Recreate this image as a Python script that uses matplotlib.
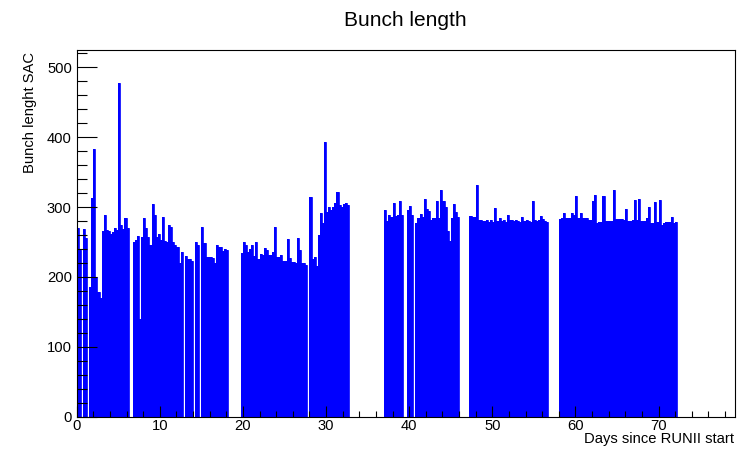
import numpy as np
import matplotlib
matplotlib.use("Agg")
import matplotlib.pyplot as plt
from matplotlib.ticker import MultipleLocator

plt.rcParams['font.family'] = ['Liberation Sans', 'DejaVu Sans']

# Histogram: bunch length per 0.25-day bin, days since RUNII start
bin_width = 0.25
days_00_10 = [270, 238, 0, 268,  255, 0, 186, 313,  383, 200, 178, 170,
              265, 288, 267, 265,  262, 264, 270, 267,  477, 274, 268, 285,
              270, 0, 0, 250,  253, 258, 140, 257,  285, 270, 257, 245,
              305, 288, 257, 262]
days_10_20 = [253, 286, 252, 250,  274, 271, 250, 246,  243, 220, 235, 0,
              230, 225, 225, 223,  0, 250, 245, 0,  272, 248, 229, 228,
              228, 227, 220, 245,  243, 243, 237, 240,  238, 0, 0, 0,
              0, 0, 0, 234]
days_20_30 = [250, 245, 236, 240,  245, 230, 250, 226,  233, 231, 242, 238,
              231, 232, 235, 272,  229, 229, 232, 223,  223, 254, 227, 222,
              222, 220, 255, 238,  220, 220, 217, 0,  314, 225, 229, 215,
              260, 291, 277, 393]
days_30_40 = [293, 300, 296, 300,  306, 321, 303, 300,  305, 306, 303, 0,
              0, 0, 0, 0,  0, 0, 0, 0,  0, 0, 0, 0,  0, 0, 0, 0,
              296, 280, 288, 286,  306, 287, 288, 308,  288, 0, 0, 296]
days_40_50 = [301, 288, 0, 277,  285, 290, 286, 312,  297, 294, 282, 285,
              285, 309, 284, 324,  308, 300, 265, 252,  285, 305, 293, 286,
              0, 0, 0, 0,  0, 287, 286, 286,  331, 281, 281, 280,
              280, 282, 279, 281]
days_50_60 = [279, 299, 280, 284,  280, 281, 279, 288,  282, 281, 280, 281,
              280, 279, 286, 280,  281, 280, 279, 309,  281, 280, 281, 287,
              283, 280, 278, 0,  0, 0, 0, 0,  283, 284, 292, 285,
              285, 285, 291, 289]
days_60_73 = [316, 284, 291, 285,  285, 285, 281, 281,  309, 317, 277, 279,
              279, 316, 280, 280,  280, 280, 324, 283,  283, 283, 283, 282,
              297, 280, 280, 281,  310, 281, 312, 280,  280, 280, 285, 300,
              277, 277, 307, 278,  310, 275, 277, 279,  279, 279, 286, 277,
              279]

values = np.array(days_00_10 + days_10_20 + days_20_30 + days_30_40 +
                  days_40_50 + days_50_60 + days_60_73, dtype=float)
edges = np.arange(len(values) + 1) * bin_width

fig = plt.figure(figsize=(7.42, 4.49), dpi=100)
ax = fig.add_axes([76.7 / 742, 1 - 416.7 / 449, (735 - 76.7) / 742, (416.7 - 50) / 449])

ax.stairs(values, edges, fill=True, facecolor='#0000ff', edgecolor='none', baseline=0)
ax.stairs(values, edges, fill=False, color='#0000ff', linewidth=0.6, baseline=0)

ax.set_xlim(0, 79.2)
ax.set_ylim(0, values.max() * 1.1)

ax.xaxis.set_major_locator(MultipleLocator(10))
ax.xaxis.set_minor_locator(MultipleLocator(2))
ax.yaxis.set_major_locator(MultipleLocator(100))
ax.yaxis.set_minor_locator(MultipleLocator(20))

ax.tick_params(axis='x', which='major', direction='in', length=8, width=0.8,
               labelsize=10.6, pad=2, top=False)
ax.tick_params(axis='x', which='minor', direction='in', length=4, width=0.8, top=False)
ax.tick_params(axis='y', which='major', direction='in', length=14.4, width=0.8,
               labelsize=10.6, pad=3.5, right=False)
ax.tick_params(axis='y', which='minor', direction='in', length=7.2, width=0.8, right=False)
for s in ax.spines.values():
    s.set_linewidth(0.8)
    s.set_zorder(5)

fig.text(405 / 742, 1 - 20 / 449, 'Bunch length', ha='center', va='center', fontsize=15)
fig.text(30 / 742, 1 - 52 / 449, 'Bunch lenght SAC', rotation=90, ha='center', va='top',
         fontsize=10.6)
fig.text(734 / 742, 1 - 439 / 449, 'Days since RUNII start', ha='right', va='center',
         fontsize=10.6)

fig.savefig('out.png', dpi=100)
